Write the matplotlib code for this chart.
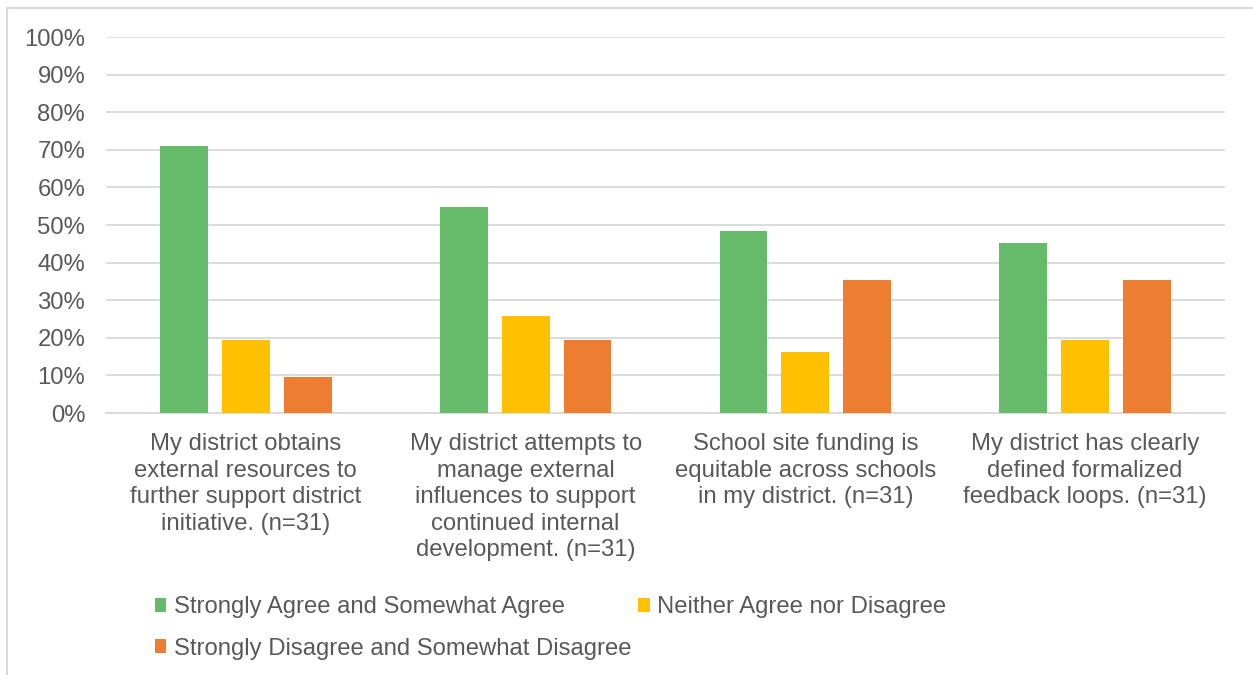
import numpy as np
import matplotlib.pyplot as plt

plt.rcParams['font.family'] = ['Liberation Sans', 'DejaVu Sans']

categories = [
    'My district obtains\nexternal resources to\nfurther support district\ninitiative. (n=31)',
    'My district attempts to\nmanage external\ninfluences to support\ncontinued internal\ndevelopment. (n=31)',
    'School site funding is\nequitable across schools\nin my district. (n=31)',
    'My district has clearly\ndefined formalized\nfeedback loops. (n=31)',
]
series_names = [
    'Strongly Agree and Somewhat Agree',
    'Neither Agree nor Disagree',
    'Strongly Disagree and Somewhat Disagree',
]
agree = [71.0, 54.8, 48.4, 45.2]
neither = [19.4, 25.8, 16.1, 19.4]
disagree = [9.7, 19.4, 35.5, 35.5]
colors = ['#66BB6A', '#FFC000', '#ED7D31']
text_col = '#595959'
fs = 17.2

fig = plt.figure(figsize=(12.53, 6.75), dpi=100)
ax = fig.add_axes([106/1253, 1-413/675, 1119/1253, 376/675])

x = np.arange(len(categories))
w = 0.171
step = 0.221
bars = []
for i, vals in enumerate([agree, neither, disagree]):
    b = ax.bar(x + (i-1)*step, vals, width=w, color=colors[i], label=series_names[i], zorder=3)
    bars.append(b)

ax.set_xlim(-0.5, 3.5)
ax.set_ylim(0, 100)
ax.set_yticks(np.arange(0, 101, 10))
ax.set_yticklabels([f'{v}%' for v in range(0, 101, 10)], color=text_col, fontsize=fs)
ax.yaxis.grid(True, color='#d9d9d9', linewidth=1.3, zorder=0)
ax.tick_params(axis='y', length=0, pad=15)
ax.tick_params(axis='x', length=0, pad=14.5)
ax.set_xticks(x)
ax.set_xticklabels(categories, color=text_col, fontsize=fs, linespacing=1.27, va='top')
for s in ['top', 'right', 'left']:
    ax.spines[s].set_visible(False)
ax.spines['bottom'].set_color('#d9d9d9')
ax.spines['bottom'].set_linewidth(1.3)

# legend fills row by row in the reference: agree, neither / disagree
order = [0, 2, 1]
leg = fig.legend(handles=[bars[i] for i in order], labels=[series_names[i] for i in order],
                 loc='upper left', bbox_to_anchor=(133/1253, 1-575/675), ncol=2, frameon=False,
                 fontsize=fs, handlelength=0.5, handleheight=0.5, handletextpad=0.3,
                 columnspacing=0.3, labelspacing=0.8)
for t in leg.get_texts():
    t.set_color(text_col)

# chart border
fig.add_artist(plt.Rectangle((7/1253, -0.05), 1.2, 1-8/675+0.05, transform=fig.transFigure,
                             fill=False, edgecolor='#d9d9d9', linewidth=1.5))

fig.savefig('out.png', dpi=100)
